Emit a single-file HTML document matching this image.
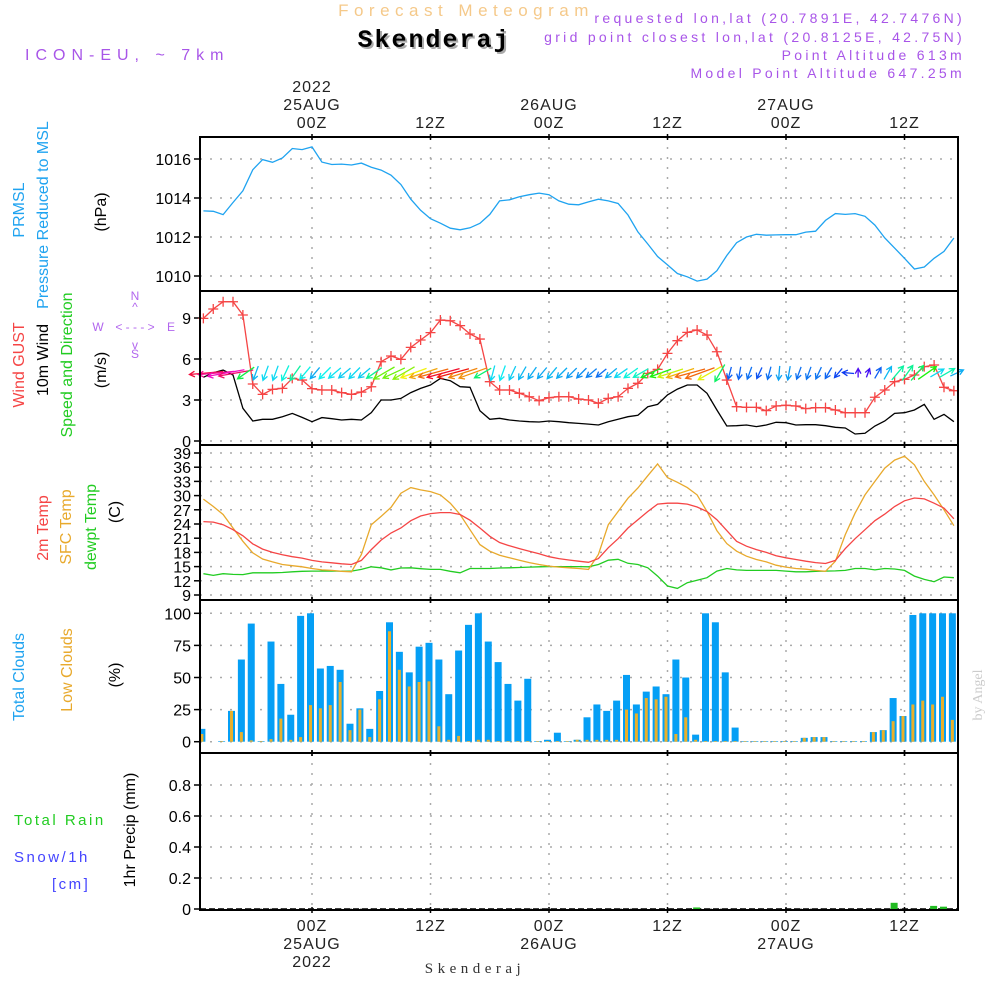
<!DOCTYPE html>
<html><head><meta charset="utf-8">
<style>
body{margin:0;background:#fff;width:1000px;height:1000px;overflow:hidden}
svg{display:block;font-family:"Liberation Sans",sans-serif}
</style></head>
<body>
<svg id="chart" width="1000" height="1000" viewBox="0 0 1000 1000" xmlns="http://www.w3.org/2000/svg">
<rect width="1000" height="1000" fill="#fff"/>
<text x="466" y="16" text-anchor="middle" font-size="17" fill="#f5c98a" letter-spacing="5.5">Forecast Meteogram</text>
<text x="436" y="49" text-anchor="middle" font-size="25" font-weight="bold" font-family="Liberation Mono,monospace" fill="#aaa" letter-spacing="2">Skenderaj</text>
<text x="434" y="47" text-anchor="middle" font-size="25" font-weight="bold" font-family="Liberation Mono,monospace" fill="#000" letter-spacing="2">Skenderaj</text>
<g fill="#a855e8" font-size="14" text-anchor="end" letter-spacing="3.3">
<text x="965" y="23">requested lon,lat (20.7891E, 42.7476N)</text>
<text x="965" y="42">grid point closest lon,lat (20.8125E, 42.75N)</text>
<text x="965" y="60">Point Altitude 613m</text>
<text x="965" y="78">Model Point Altitude 647.25m</text>
</g>
<text x="25" y="60" font-size="16" fill="#a855e8" letter-spacing="6">ICON-EU, ~ 7km</text>
<g id="plot"></g>
<text x="475" y="973" text-anchor="middle" font-size="15" font-family="Liberation Serif,serif" fill="#333" letter-spacing="4.5">Skenderaj</text>
<text transform="translate(982,695) rotate(-90)" text-anchor="middle" font-size="14" font-family="Liberation Serif,serif" fill="#ccc">by Angel</text>
</svg>
<script>
const hours = [];
for (let t = -11; t <= 65; t++) hours.push(t);
const pressure = [1013.34,1013.32,1013.15,1013.77,1014.37,1015.45,1015.97,1015.83,1016.05,1016.54,1016.48,1016.62,1015.84,1015.72,1015.74,1015.69,1015.79,1015.58,1015.43,1015.17,1014.69,1013.94,1013.37,1012.94,1012.71,1012.45,1012.37,1012.47,1012.70,1013.16,1013.85,1013.91,1014.06,1014.17,1014.25,1014.17,1013.85,1013.68,1013.65,1013.80,1013.94,1013.85,1013.72,1013.13,1012.26,1011.64,1011.0,1010.57,1010.13,1009.96,1009.74,1009.84,1010.27,1011.05,1011.71,1012.0,1012.14,1012.09,1012.11,1012.12,1012.12,1012.25,1012.30,1012.85,1013.20,1013.16,1013.20,1013.06,1012.61,1011.95,1011.43,1010.91,1010.36,1010.46,1010.91,1011.26,1011.95];
const gust = [8.97,9.66,10.19,10.19,9.22,4.17,3.41,3.78,3.85,4.58,4.46,3.83,3.73,3.73,3.54,3.41,3.58,3.97,5.8,6.22,5.97,6.85,7.39,7.93,8.85,8.8,8.44,7.83,7.46,4.34,3.73,3.73,3.49,3.24,2.95,3.17,3.24,3.24,3.07,3.0,2.76,3.12,3.24,3.85,4.22,4.95,5.24,6.41,7.34,7.95,8.12,7.75,6.53,4.46,2.51,2.46,2.46,2.22,2.56,2.61,2.56,2.37,2.44,2.44,2.27,2.07,2.07,2.07,3.2,3.73,4.34,4.51,4.83,5.44,5.56,3.93,3.68];
const wind = [4.66,5.0,5.19,4.83,2.39,1.46,1.59,1.59,1.78,2.02,1.73,1.41,1.71,1.63,1.54,1.59,1.54,2.07,3.0,3.0,3.12,3.54,3.85,4.1,4.58,4.41,3.97,3.93,2.22,1.59,1.66,1.54,1.46,1.41,1.39,1.46,1.41,1.34,1.29,1.24,1.17,1.41,1.59,1.78,1.88,2.51,2.68,3.37,3.8,4.1,4.1,3.49,2.27,1.1,1.12,1.17,1.05,1.17,1.37,1.34,1.17,1.19,1.19,1.12,1.0,0.95,0.51,0.56,1.1,1.46,2.02,2.07,2.27,2.68,1.59,1.95,1.41];
const windDir = [85,85,80,80,55,20,20,20,25,35,40,40,45,50,50,45,50,55,60,65,60,70,72,75,75,75,72,70,60,15,20,25,30,35,40,40,45,45,45,50,50,50,55,55,60,65,70,72,72,75,70,60,30,15,10,20,25,15,5,10,20,20,25,30,40,95,180,200,210,210,220,215,220,235,240,240,245];
const temp2m = [24.5,24.4,23.85,22.8,21.5,19.8,18.7,18.0,17.5,17.1,16.8,16.3,16.0,15.8,15.6,15.45,16.3,18.6,20.6,22.1,23.15,24.7,25.7,26.2,26.4,26.4,26.0,24.8,23.15,21.4,20.1,19.4,18.8,18.25,17.7,17.1,16.7,16.4,16.15,15.9,16.7,19.0,20.9,23.15,24.9,26.65,28.2,28.4,28.4,28.2,27.6,26.65,24.9,22.6,20.35,19.3,18.6,18.0,17.3,16.85,16.5,16.15,15.85,15.65,16.3,18.8,20.9,22.8,24.7,26.1,27.7,28.9,29.5,29.3,28.4,27.35,25.1];
const tempSfc = [29.25,27.7,26.0,23.15,20.35,17.9,16.6,16.0,15.45,15.2,14.95,14.6,14.3,14.2,14.0,13.9,17.55,23.85,25.6,27.5,30.5,31.7,31.2,30.85,30.15,28.4,26.0,22.8,19.65,18.25,17.4,16.85,16.35,15.85,15.45,15.1,14.9,14.75,14.6,14.4,17.55,23.85,26.65,29.45,31.6,34.2,36.7,33.8,32.8,31.7,30.15,26.65,22.6,19.85,18.25,17.2,16.5,16.0,15.3,14.9,14.6,14.45,14.2,14.0,16.15,21.75,26.3,30.15,33.0,35.8,37.5,38.3,36.5,33.0,30.15,27.0,23.65];
const dewpt = [13.5,13.15,13.5,13.35,13.3,13.7,13.7,13.7,13.75,13.9,14.0,14.05,14.05,14.05,14.05,14.05,14.4,14.95,14.75,14.3,14.7,14.75,14.55,14.4,14.4,14.0,13.7,14.6,14.6,14.6,14.7,14.75,14.8,14.9,14.95,15.0,15.0,15.0,15.0,14.95,15.45,16.35,16.55,15.7,15.45,14.75,13.0,10.9,10.4,11.6,12.1,12.65,14.05,14.6,14.3,14.2,14.2,14.2,14.2,14.05,13.9,13.9,14.0,14.05,14.1,14.2,14.6,14.6,14.3,14.6,14.5,14.2,13.0,12.3,11.8,12.8,12.65];
const totalCloud = [10,0,0.5,24,64,92,0.5,78,45,21,98,100,57,59,56,14,26,10,39.5,93,70,54,74,77,64,37,71,91,100,78,62,45,32,49,0.5,1.5,7,0.5,1.5,19,29,24,32,52,29,39,43,37,64,50,5.5,100,93,54,11,0.5,0.5,0.5,0.5,0.5,0.5,3,3.6,3.6,0.5,0.5,0.5,0.5,7.5,9,34,20,98.7,100,100,100,100];
const lowCloud = [6,0,0.5,24,7.5,1,0.5,2,18,1.5,3.6,28.5,26,28.5,46.5,9,25,3.6,33,86,56,43,46.5,47,12,1.5,4.5,0.5,1.5,1.5,0.5,0.5,0.5,0.5,0.5,0.5,0.5,0.5,1.5,1.5,1.5,1.5,1.5,25,22,34,33,35,6,19,1.5,0.5,0.5,0.5,0.5,0.5,0.5,0.5,0.5,0.5,0.5,3,3.6,3.6,0.5,0.5,0.5,0.5,7.5,9,16,20,29,32,29,35,17];
const precip = [0,0,0,0,0,0,0,0,0,0,0,0,0,0,0,0,0,0,0,0,0,0,0,0,0,0,0,0,0,0,0,0,0,0,0,0,0,0,0,0,0,0,0,0,0,0,0,0,0,0,0.01,0,0,0,0,0,0,0,0,0,0,0,0,0,0,0,0,0,0,0,0.04,0,0,0,0.02,0.015,0];
const pressureTicks = [1010,1012,1014,1016];
const windTicks = [0,3,6,9];
const tempTicks = [9,12,15,18,21,24,27,30,33,36,39];
const cloudTicks = [0,25,50,75,100];
const precipTicks = [0,0.2,0.4,0.6,0.8];
const timeTicks = [0,12,24,36,48,60];
const timeLabels = ["00Z","12Z","00Z","12Z","00Z","12Z"];
const dayLabels = ["25AUG","","26AUG","","27AUG",""];

const NS = "http://www.w3.org/2000/svg";
const plot = document.getElementById('plot');
function el(tag, attrs, parent) {
  const e = document.createElementNS(NS, tag);
  for (const k in attrs) e.setAttribute(k, attrs[k]);
  (parent || plot).appendChild(e);
  return e;
}
const X0 = 200, X1 = 958;
const x = t => 312 + t * 9.875;
function lin(v0, p0, v1, p1) { return v => p0 + (v - v0) * (p1 - p0) / (v1 - v0); }
const yP = lin(1010, 276, 1016, 159);
const yW = lin(0, 441, 9, 318);
const yT = lin(9, 595, 39, 453);
const yC = lin(0, 741.7, 100, 613.3);
const yR = lin(0, 909, 0.8, 785);
const panels = [[137, 291], [291, 445], [445, 600], [600, 753], [753, 910]];
const panelNames = ['pressure-panel', 'wind-panel', 'temperature-panel', 'cloud-panel', 'precip-panel'];

function hgrid(ticks, yf, fmt, pname) {
  ticks.forEach(v => {
    const yy = yf(v);
    const g = el('line', {x1: X0, x2: X1, y1: yy, y2: yy, stroke: '#aaa', 'stroke-width': 1.5, 'stroke-dasharray': '2,8'});
    
    
    const tk = el('line', {x1: X0 - 6, x2: X0, y1: yy, y2: yy, stroke: '#000', 'stroke-width': 1.5});
    
    
    const tx = el('text', {x: X0 - 9, y: yy + 6, 'text-anchor': 'end', 'font-size': 16, fill: '#000'});
    tx.textContent = fmt(v);
    
    
  });
}
panels.forEach((p, i) => {
  timeTicks.forEach(t => {
    const vl = el('line', {x1: x(t), x2: x(t), y1: p[0], y2: p[1], stroke: '#aaa', 'stroke-width': 1.5, 'stroke-dasharray': '2,8'});
    
    
    [p[0], p[1]].forEach(yy => {
      const tk = el('line', {x1: x(t), x2: x(t), y1: yy - 3, y2: yy + 3, stroke: '#000', 'stroke-width': 1.5});
      
      
    });
  });
});
hgrid(pressureTicks, yP, v => v, 'pressure');
hgrid(windTicks, yW, v => v, 'wind');
hgrid(tempTicks, yT, v => v, 'temperature');
hgrid(cloudTicks, yC, v => v, 'cloud');
hgrid(precipTicks, yR, v => v, 'precip');

function line(vals, yf, color, name, w) {
  const pts = vals.map((v, i) => x(hours[i]).toFixed(1) + ',' + yf(v).toFixed(1)).join(' ');
  const pl = el('polyline', {points: pts, fill: 'none', stroke: color, 'stroke-width': w || 1.3});
  
  
  return pl;
}
line(pressure, yP, '#1fa3f0', 'pressure-line');
line(wind, yW, '#000', 'wind-speed-line');
line(gust, yW, '#f54545', 'wind-gust-line');
gust.forEach((v, i) => {
  const cx = x(hours[i]), cy = yW(v);
  const m = el('path', {d: `M${cx-5},${cy}H${cx+5}M${cx},${cy-5}V${cy+5}`, stroke: '#f54545', 'stroke-width': 1.3});
  
  
});
wind.forEach((s, i) => {
  const d = windDir[i] * Math.PI / 180;
  const dx = -Math.sin(d), dy = Math.cos(d);
  const L = 6 * s + 6;
  const cx = x(hours[i]) + 3, cy = 373;
  const x1 = cx - dx * L / 2, y1 = cy - dy * L / 2, x2 = cx + dx * L / 2, y2 = cy + dy * L / 2;
  let hue = 290 - 65 * s; if (hue < 0) hue += 360;
  const col = `hsl(${hue},90%,50%)`;
  const a = Math.atan2(dy, dx), h = 6;
  const ax1 = x2 - h * Math.cos(a - 0.5), ay1 = y2 - h * Math.sin(a - 0.5);
  const ax2 = x2 - h * Math.cos(a + 0.5), ay2 = y2 - h * Math.sin(a + 0.5);
  const ar = el('path', {d: `M${x1},${y1}L${x2},${y2}M${ax1},${ay1}L${x2},${y2}L${ax2},${ay2}`, stroke: col, 'stroke-width': 1.3, fill: 'none'});
  
  
});
line(dewpt, yT, '#22cc22', 'dewpoint-line');
line(tempSfc, yT, '#e8a92c', 'sfc-temp-line');
line(temp2m, yT, '#f54545', 'temp-2m-line');
totalCloud.forEach((v, i) => {
  const bx = x(hours[i]) - 5, top = yC(v);
  const r = el('rect', {x: Math.max(bx, X0), y: top, width: Math.min(7, bx + 7 - X0), height: yC(0) - top, fill: '#059ff5'});
  
  
});
lowCloud.forEach((v, i) => {
  const bx = x(hours[i]) - 3, top = yC(v);
  const r = el('rect', {x: Math.max(bx, X0), y: top, width: Math.min(3, bx + 3 - X0), height: yC(0) - top, fill: '#e8b02c'});
  
  
});
const zl = el('line', {x1: X0, x2: X1, y1: yR(0), y2: yR(0), stroke: '#000', 'stroke-width': 1.5, 'stroke-dasharray': '6,3'});


precip.forEach((v, i) => {
  if (v <= 0) return;
  const top = yR(v);
  const r = el('rect', {x: x(hours[i]) - 4, y: top, width: 7, height: yR(0) - top, fill: '#22bb22'});
  
  
});
panels.forEach((p, i) => {
  const f = el('rect', {x: X0, y: p[0], width: X1 - X0, height: p[1] - p[0], fill: 'none', stroke: '#000', 'stroke-width': 2});
  
  
});
timeTicks.forEach((t, i) => {
  const tl = el('text', {x: x(t), y: 128, 'text-anchor': 'middle', 'font-size': 16, fill: '#222', 'letter-spacing': 1});
  tl.textContent = timeLabels[i];
  
  
  const bl = el('text', {x: x(t), y: 931, 'text-anchor': 'middle', 'font-size': 16, fill: '#222', 'letter-spacing': 1});
  bl.textContent = timeLabels[i];
  
  
  if (dayLabels[i]) {
    const dl = el('text', {x: x(t), y: 110, 'text-anchor': 'middle', 'font-size': 16, fill: '#222', 'letter-spacing': 1});
    dl.textContent = dayLabels[i];
    
    
    const db = el('text', {x: x(t), y: 949, 'text-anchor': 'middle', 'font-size': 16, fill: '#222', 'letter-spacing': 1});
    db.textContent = dayLabels[i];
    
    
  }
});
const y1 = el('text', {x: x(0), y: 92, 'text-anchor': 'middle', 'font-size': 16, fill: '#222', 'letter-spacing': 1});
y1.textContent = '2022';


const y2 = el('text', {x: x(0), y: 967, 'text-anchor': 'middle', 'font-size': 16, fill: '#222', 'letter-spacing': 1});
y2.textContent = '2022';



function vlabel(txt, cx, cy, color, name, size) {
  const t = el('text', {transform: `translate(${cx},${cy}) rotate(-90)`, 'text-anchor': 'middle', 'font-size': size || 16, fill: color});
  t.textContent = txt;
  
  
}
vlabel('PRMSL', 24, 210, '#1fa3f0', 'prmsl-label');
vlabel('Pressure Reduced to MSL', 48, 215, '#1fa3f0', 'pressure-label');
vlabel('(hPa)', 106, 212, '#000', 'pressure-unit');
vlabel('Wind GUST', 24, 365, '#f54545', 'gust-label');
vlabel('10m Wind', 48, 360, '#000', 'wind-label');
vlabel('Speed and Direction', 72, 365, '#22cc22', 'speed-direction-label');
vlabel('(m/s)', 106, 370, '#000', 'wind-unit');
vlabel('2m Temp', 48, 528, '#f54545', 'temp-2m-label');
vlabel('SFC Temp', 71, 527, '#e8a92c', 'sfc-temp-label');
vlabel('dewpt Temp', 96, 527, '#22cc22', 'dewpt-label');
vlabel('(C)', 120, 512, '#000', 'temp-unit');
vlabel('Total Clouds', 24, 677, '#1fa3f0', 'total-clouds-label');
vlabel('Low Clouds', 72, 670, '#e8a92c', 'low-clouds-label');
vlabel('(%)', 120, 675, '#000', 'cloud-unit');
vlabel('1hr Precip (mm)', 135, 830, '#000', 'precip-unit');
const tr = el('text', {x: 14, y: 825, 'font-size': 15, fill: '#22cc22', 'letter-spacing': 2.5});
tr.textContent = 'Total  Rain';
tr.setAttribute('xml:space', 'preserve');


const sn = el('text', {x: 14, y: 862, 'font-size': 15, fill: '#4444ff', 'letter-spacing': 2.5});
sn.textContent = 'Snow/1h';


const cm = el('text', {x: 52, y: 889, 'font-size': 15, fill: '#4444ff', 'letter-spacing': 2.5});
cm.textContent = '[cm]';


const cg = el('g', {fill: '#b266ee', 'font-size': 12, 'text-anchor': 'middle'});


[['N', 135, 300], ['W', 98, 331], ['E', 171, 331], ['S', 135, 358], ['< - - - >', 135, 331], ['^', 135, 311], ['v', 135, 349]].forEach(a => {
  const t = el('text', {x: a[1], y: a[2]}, cg);
  t.textContent = a[0];
  
  
});
</script>
</body></html>
